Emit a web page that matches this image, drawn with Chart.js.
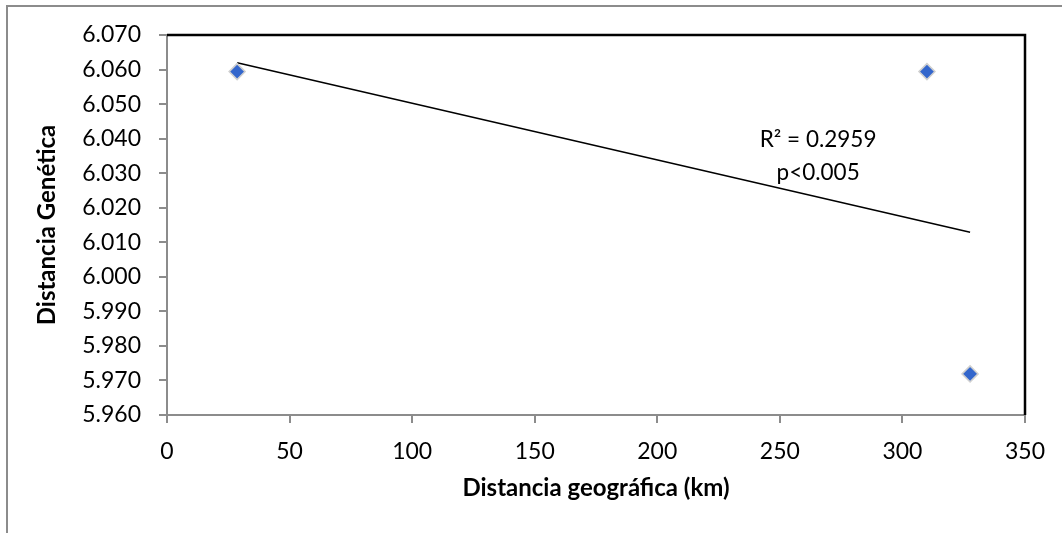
<!DOCTYPE html>
<html>
<head>
<meta charset="utf-8">
<script src="https://cdn.jsdelivr.net/npm/chart.js@4/dist/chart.umd.min.js"></script>
<style>
  html, body { margin: 0; padding: 0; background: #fff; }
  #wrap { position: relative; width: 1062px; height: 533px; }
</style>
</head>
<body>
<div id="wrap"><canvas id="scatter-chart" width="1062" height="533"></canvas></div>
<script>
// datos
const geoDistance = [28.6, 310, 327.6];
const geneticDistance = [6.0594, 6.0594, 5.9719];
const xTicks = [0, 50, 100, 150, 200, 250, 300, 350];
const yTicks = [5.96, 5.97, 5.98, 5.99, 6.0, 6.01, 6.02, 6.03, 6.04, 6.05, 6.06, 6.07];
const annotationLines = ["R\u00B2 = 0.2959", "p<0.005"];
const annotationAt = { x: 265.6, y: [6.0396, 6.0301] };

const FONT = "Lato, 'Open Sans', sans-serif";

// recta de minimos cuadrados (linea de tendencia)
function linearFit(xs, ys) {
  const n = xs.length;
  const mx = xs.reduce((a, b) => a + b, 0) / n;
  const my = ys.reduce((a, b) => a + b, 0) / n;
  let sxy = 0, sxx = 0;
  xs.forEach((x, i) => {
    sxy += (x - mx) * (ys[i] - my);
    sxx += (x - mx) * (x - mx);
  });
  const slope = sxy / sxx;
  return (x) => my + slope * (x - mx);
}

const fit = linearFit(geoDistance, geneticDistance);
const xMin = Math.min(...geoDistance);
const xMax = Math.max(...geoDistance);
const trendPoints = [
  { x: xMin, y: fit(xMin) },
  { x: xMax, y: fit(xMax) },
];

// marco del grafico + borde superior/derecho del area de trazado
const framePlugin = {
  id: "frame",
  beforeDraw(chart) {
    const ctx = chart.ctx;
    ctx.save();
    ctx.strokeStyle = "#8c8c8c";
    ctx.lineWidth = 2;
    ctx.beginPath();
    ctx.moveTo(7, chart.height);
    ctx.lineTo(7, 6);
    ctx.lineTo(chart.width, 6);
    ctx.stroke();
    ctx.restore();
  },
  beforeDatasetsDraw(chart) {
    const { ctx, chartArea } = chart;
    ctx.save();
    ctx.strokeStyle = "#000";
    ctx.lineWidth = 2.5;
    ctx.beginPath();
    ctx.moveTo(chartArea.left, chartArea.top);
    ctx.lineTo(chartArea.right, chartArea.top);
    ctx.lineTo(chartArea.right, chartArea.bottom);
    ctx.stroke();
    ctx.restore();
  },
  afterDatasetsDraw(chart) {
    const { ctx, scales } = chart;
    ctx.save();
    ctx.fillStyle = "#000";
    ctx.font = "22.5px " + FONT;
    ctx.textAlign = "center";
    ctx.textBaseline = "middle";
    annotationLines.forEach((txt, i) => {
      ctx.fillText(
        txt,
        scales.x.getPixelForValue(annotationAt.x),
        scales.y.getPixelForValue(annotationAt.y[i])
      );
    });
    ctx.restore();
  },
};

new Chart(document.getElementById("scatter-chart"), {
  type: "scatter",
  data: {
    datasets: [
      {
        label: "Distancia",
        data: geoDistance.map((x, i) => ({ x, y: geneticDistance[i] })),
        pointStyle: "rectRot",
        pointRadius: 8,
        pointBackgroundColor: "#3366cc",
        pointBorderColor: "#d0d0d0",
        pointBorderWidth: 1.5,
        order: 1,
      },
      {
        label: "Tendencia",
        type: "line",
        data: trendPoints,
        borderColor: "#000",
        borderWidth: 1.5,
        pointRadius: 0,
        fill: false,
        order: 2,
      },
    ],
  },
  options: {
    responsive: false,
    animation: false,
    layout: { padding: { top: 35, right: 37, left: 0, bottom: 0 } },
    plugins: {
      legend: { display: false },
      tooltip: { enabled: false },
    },
    scales: {
      x: {
        type: "linear",
        min: 0,
        max: 350,
        afterBuildTicks: (s) => { s.ticks = xTicks.map((v) => ({ value: v })); },
        afterFit: (s) => { s.height = 118; },
        border: { color: "#8c8c8c", width: 2 },
        grid: { drawOnChartArea: false, drawTicks: true, tickLength: 8, color: "#8c8c8c", lineWidth: 2 },
        ticks: { color: "#000", font: { family: FONT, size: 23 }, padding: 15, maxRotation: 0 },
        title: {
          display: true,
          text: "Distancia geográfica (km)",
          color: "#000",
          font: { family: FONT, size: 24, weight: "bold" },
          padding: { top: 0, bottom: 30 },
        },
      },
      y: {
        type: "linear",
        min: 5.96,
        max: 6.07,
        afterBuildTicks: (s) => { s.ticks = yTicks.map((v) => ({ value: v })); },
        afterFit: (s) => { s.width = 167; },
        border: { color: "#8c8c8c", width: 2 },
        grid: { drawOnChartArea: false, drawTicks: true, tickLength: 8, color: "#8c8c8c", lineWidth: 2 },
        ticks: {
          color: "#000",
          font: { family: FONT, size: 23 },
          padding: 18,
          callback: (v) => v.toFixed(3),
        },
        title: {
          display: true,
          text: "Distancia Genética",
          color: "#000",
          font: { family: FONT, size: 24, weight: "bold" },
          padding: { top: 33, bottom: 0 },
        },
      },
    },
  },
  plugins: [framePlugin],
});
</script>
</body>
</html>
